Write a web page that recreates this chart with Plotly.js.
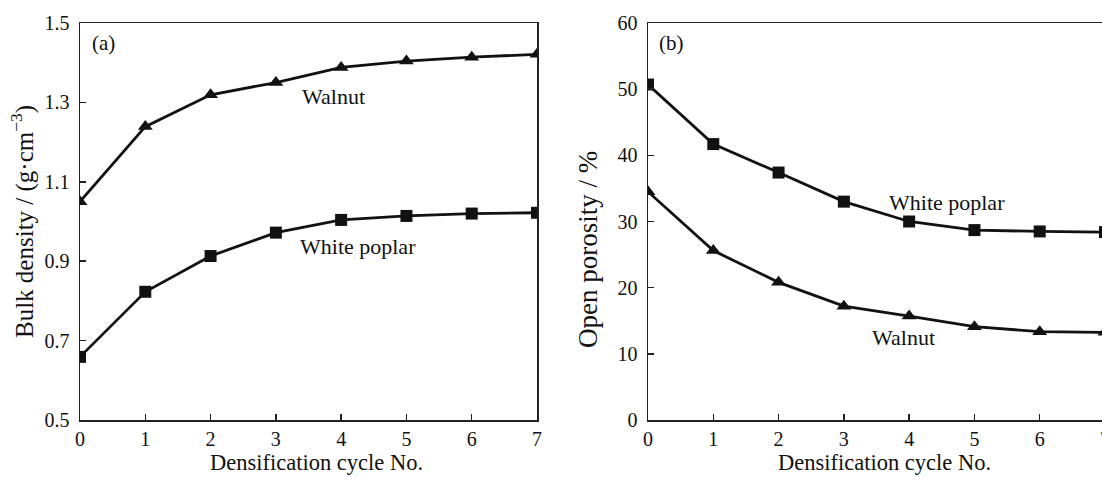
<!DOCTYPE html>
<html>
<head>
<meta charset="utf-8">
<script src="https://cdn.plot.ly/plotly-3.0.1.min.js"></script>
<style>
html,body{margin:0;padding:0;overflow:hidden;background:#fff;width:1102px;height:477px;}
#chart{width:1110px;height:477px;}
</style>
</head>
<body>
<div id="chart"></div>
<script>
// Data
const cycles = [0, 1, 2, 3, 4, 5, 6, 7];
const densityWalnut = [1.05, 1.239, 1.319, 1.35, 1.388, 1.404, 1.414, 1.421];
const densityPoplar = [0.659, 0.823, 0.913, 0.972, 1.004, 1.014, 1.02, 1.022];
const porosityPoplar = [50.7, 41.7, 37.4, 33.0, 30.0, 28.7, 28.5, 28.4];
const porosityWalnut = [34.5, 25.6, 20.8, 17.2, 15.7, 14.1, 13.35, 13.25];
const xTicks = [0, 1, 2, 3, 4, 5, 6, 7];
const densityTicks = [0.5, 0.7, 0.9, 1.1, 1.3, 1.5];
const densityTickText = ['0.5', '0.7', '0.9', '1.1', '1.3', '1.5'];
const porosityTicks = [0, 10, 20, 30, 40, 50, 60];
const xTitle = 'Densification cycle No.';
const yTitleA = 'Bulk density / (g·cm<sup>−3</sup>)';
const yTitleB = 'Open porosity / %';

const W = 1110, H = 477;
const FONT = 'Liberation Serif, Times New Roman, serif';
const lineStyle = {color: '#111', width: 2.8};

function trace(x, y, xa, ya, sym, size) {
  return {x: x, y: y, xaxis: xa, yaxis: ya, type: 'scatter', mode: 'lines+markers',
    line: lineStyle, marker: {symbol: sym, size: size, color: '#111'}, showlegend: false, hoverinfo: 'skip'};
}

const data = [
  trace(cycles, densityWalnut, 'x', 'y', 'triangle-up', 13),
  trace(cycles, densityPoplar, 'x', 'y', 'square', 12),
  trace(cycles, porosityPoplar, 'x2', 'y2', 'square', 12),
  trace(cycles, porosityWalnut, 'x2', 'y2', 'triangle-up', 13)
];

const yDom = [(H - 420) / H, (H - 23) / H];
const axBase = {
  showgrid: false, zeroline: false, showline: true, linecolor: '#222', linewidth: 1.5,
  mirror: true, ticks: 'inside', ticklen: 6, tickwidth: 1.5, tickcolor: '#222',
  tickfont: {family: FONT, size: 20, color: '#111'}
};
const py = p => (H - p) / H;   // pixel row -> paper fraction
const px = p => p / W;

function ann(text, xref, yref, x, y, size, extra) {
  return Object.assign({text: text, xref: xref, yref: yref, x: x, y: y, showarrow: false,
    xanchor: 'center', yanchor: 'middle', font: {family: FONT, size: size, color: '#111'}}, extra || {});
}

const layout = {
  width: W, height: H,
  margin: {l: 0, r: 0, t: 0, b: 0},
  paper_bgcolor: '#fff', plot_bgcolor: '#fff',
  font: {family: FONT, size: 20, color: '#111'},
  xaxis: Object.assign({}, axBase, {domain: [80 / W, 537 / W], range: [0, 7], tickvals: xTicks, anchor: 'y'}),
  yaxis: Object.assign({}, axBase, {domain: yDom, range: [0.5, 1.5], tickvals: densityTicks, ticktext: densityTickText, anchor: 'x', ticklabelstandoff: 5}),
  xaxis2: Object.assign({}, axBase, {domain: [648 / W, 1105 / W], range: [0, 7], tickvals: xTicks, anchor: 'y2'}),
  yaxis2: Object.assign({}, axBase, {domain: yDom, range: [0, 60], tickvals: porosityTicks, anchor: 'x2', ticklabelstandoff: 5}),
  annotations: [
    ann('(a)', 'x', 'y', 0.36, 1.45, 21),
    ann('(b)', 'x2', 'y2', 0.36, 57, 21),
    ann('Walnut', 'x', 'y', 3.89, 1.314, 22),
    ann('White poplar', 'x', 'y', 4.26, 0.936, 22),
    ann('White poplar', 'x2', 'y2', 4.58, 32.9, 22),
    ann('Walnut', 'x2', 'y2', 3.92, 12.5, 22),
    ann(xTitle, 'x', 'paper', 3.63, py(462), 22.5),
    ann(xTitle, 'x2', 'paper', 3.63, py(462), 22.5),
    ann(yTitleA, 'paper', 'paper', px(22), py(222), 25, {textangle: -90}),
    ann(yTitleB, 'paper', 'paper', px(588), py(250), 27, {textangle: -90})
  ]
};

Plotly.newPlot('chart', data, layout, {staticPlot: true, displayModeBar: false});
</script>
</body>
</html>
